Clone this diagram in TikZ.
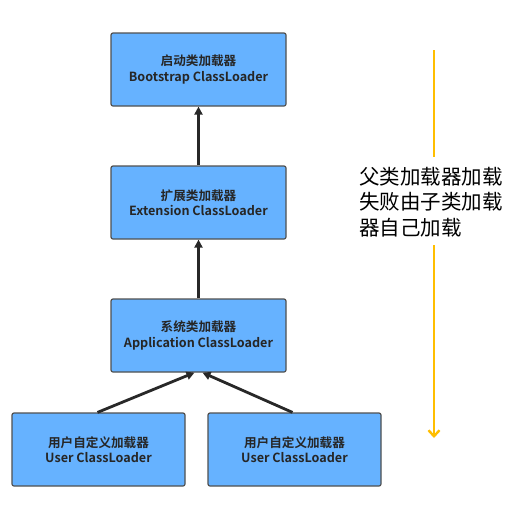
\documentclass[tikz,border=0pt]{standalone}
\usepackage{fontspec}
\setmainfont{Noto Sans CJK SC}
\newfontfamily\cjkbold{Noto Sans CJK SC Bold}
\usetikzlibrary{arrows.meta}
\definecolor{boxblue}{RGB}{102,178,255}
\definecolor{boxedge}{RGB}{80,80,80}
\definecolor{arrowdark}{RGB}{40,40,40}
\definecolor{flowgold}{RGB}{255,190,0}
\begin{document}
\begin{tikzpicture}[x=1pt,y=-1pt,
  loader/.style={draw=boxedge,line width=1.2pt,fill=boxblue,rounded corners=2pt,
    minimum width=175pt,minimum height=73pt,inner sep=0pt,align=center,
    font=\cjkbold\fontsize{12.6}{15.5}\selectfont,text=black!85},
  parentarrow/.style={draw=arrowdark,line width=2.8pt,-{Triangle[length=8pt,width=8pt]}},
  flowline/.style={draw=flowgold,line width=2.4pt},
  flowtext/.style={font=\fontsize{20.5}{25.5}\selectfont,align=left,anchor=west,inner sep=0pt}]
\useasboundingbox (0,0) rectangle (529,512);
\node[loader] (boot) at (198.5,69.5) {启动类加载器\\Bootstrap ClassLoader};
\node[loader] (ext) at (198.5,202.5) {扩展类加载器\\Extension ClassLoader};
\node[loader] (app) at (198.5,335.5) {系统类加载器\\Application ClassLoader};
\node[loader,minimum width=173pt] (u1) at (98.5,449.5) {用户自定义加载器\\User ClassLoader};
\node[loader,minimum width=173pt] (u2) at (294.5,449.5) {用户自定义加载器\\User ClassLoader};
\draw[parentarrow] (ext.north) -- (boot.south);
\draw[parentarrow] (app.north) -- (ext.south);
\coordinate (a1) at ([xshift=-4pt]app.south);
\coordinate (a2) at ([xshift=4pt]app.south);
\draw[parentarrow] ([xshift=-1pt]u1.north) -- (a1);
\draw[parentarrow] ([xshift=-2pt]u2.north) -- (a2);
\node[flowtext] (txt) at (359,202) {父类加载器加载\\失败由子类加载\\器自己加载};
\coordinate (top) at (434,50);
\coordinate (t1) at (434,157);
\coordinate (t2) at (434,245);
\coordinate (bot) at (434,438);
\draw[flowline] (top) -- (t1);
\draw[flowline,-{Straight Barb[length=6pt,width=11pt]}] (t2) -- (bot);
\end{tikzpicture}
\end{document}
